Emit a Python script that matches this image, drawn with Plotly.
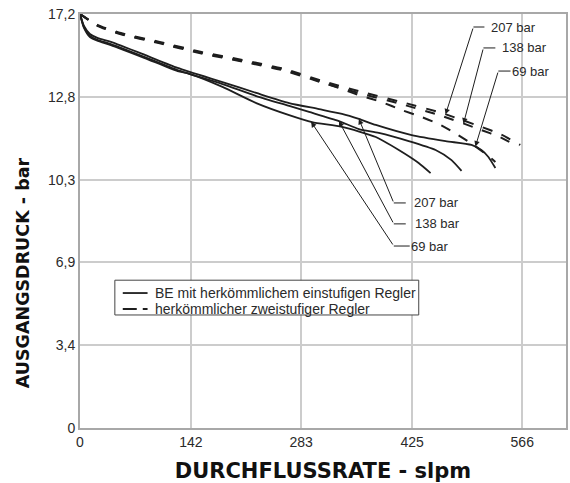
import numpy as np
import plotly.graph_objects as go

# ---- data (flow in slpm, outlet pressure in bar) ----
s207_x = [0, 5.1, 12.7, 22.9, 39.5, 82.9, 124.9, 182.3, 225.6, 267.7, 306.0, 335.3, 356.9, 378.6, 424.5, 467.9, 501.0, 513.7, 522.7, 531.6]
s207_y = [17.2, 16.70, 16.37, 16.20, 16.04, 15.50, 14.96, 14.37, 13.92, 13.50, 13.25, 13.05, 12.84, 12.59, 12.17, 11.92, 11.76, 11.55, 11.26, 10.80]

s138_x = [0, 5.1, 12.7, 22.9, 39.5, 82.9, 124.9, 182.3, 225.6, 267.7, 293.2, 331.4, 356.9, 382.4, 420.7, 455.1, 475.5, 488.3]
s138_y = [17.2, 16.66, 16.29, 16.12, 15.95, 15.41, 14.87, 14.29, 13.79, 13.38, 13.13, 12.75, 12.42, 12.26, 11.92, 11.55, 11.13, 10.68]

s69_x = [0, 5.1, 12.7, 22.9, 39.5, 82.9, 124.9, 140.2, 182.3, 225.6, 267.7, 297.0, 335.3, 378.6, 408.0, 433.4, 448.7]
s69_y = [17.2, 16.62, 16.24, 16.08, 15.91, 15.37, 14.83, 14.71, 14.17, 13.50, 13.00, 12.71, 12.51, 12.09, 11.55, 11.01, 10.59]

d207_x = [0, 22.9, 52.3, 102.0, 155.5, 207.8, 261.3, 309.8, 360.8, 411.8, 462.7, 513.7, 538.0, 563.5]
d207_y = [17.2, 16.74, 16.41, 16.04, 15.62, 15.29, 14.92, 14.42, 13.96, 13.54, 13.09, 12.51, 12.21, 11.76]

d138_x = [0, 22.9, 52.3, 102.0, 155.5, 207.8, 261.3, 309.8, 360.8, 411.8, 462.7, 513.7, 538.0, 560.9]
d138_y = [17.2, 16.70, 16.36, 15.98, 15.56, 15.22, 14.85, 14.35, 13.88, 13.45, 12.97, 12.38, 12.08, 11.68]

d69_x = [0, 22.9, 52.3, 102.0, 155.5, 207.8, 261.3, 309.8, 335.3, 360.8, 386.2, 411.8, 437.2, 458.9, 481.9, 503.5, 522.7, 531.6]
d69_y = [17.2, 16.72, 16.38, 16.01, 15.59, 15.25, 14.88, 14.37, 14.08, 13.79, 13.54, 13.21, 12.92, 12.63, 12.21, 11.76, 11.30, 11.05]

x_tickvals = [0, 142, 283, 425, 566]
x_ticktext = ["0", "142", "283", "425", "566"]
y_tickvals = [0, 3.44, 6.88, 10.32, 13.76, 17.2]
y_ticktext = ["0", "3,4", "6,9", "10,3", "12,8", "17,2"]

legend_solid = "BE mit herkömmlichem einstufigen Regler"
legend_dash = "herkömmlicher zweistufiger Regler"
pressure_labels = ["207 bar", "138 bar", "69 bar"]
x_title = "DURCHFLUSSRATE - slpm"
y_title = "AUSGANGSDRUCK - bar"

INK = "#1e1e1e"
TXT = "#2a2a2a"
FONT = "Liberation Sans, Arial, sans-serif"
DASH = "10px,10px"

fig = go.Figure()

solid = [(s207_x, s207_y), (s138_x, s138_y), (s69_x, s69_y)]
dashed = [(d207_x, d207_y), (d138_x, d138_y), (d69_x, d69_y)]

for i, (xs, ys) in enumerate(solid):
    fig.add_trace(go.Scatter(x=xs, y=ys, mode="lines", name=legend_solid, showlegend=False,
                             hoverinfo="skip",
                             line=dict(color=INK, width=1.8, shape="spline", smoothing=0.6)))
for i, (xs, ys) in enumerate(dashed):
    fig.add_trace(go.Scatter(x=xs, y=ys, mode="lines", name=legend_dash, showlegend=False,
                             hoverinfo="skip",
                             line=dict(color=INK, width=2, dash=DASH, shape="spline", smoothing=0.6)))

annotations = []
shapes = []

def add_callout(series, tip_x, elbow_x, elbow_y, leader_end_x, text_x, label):
    xs, ys = series
    tip_y = float(np.interp(tip_x, xs, ys))
    annotations.append(dict(x=tip_x, y=tip_y, ax=elbow_x, ay=elbow_y, xref="x", yref="y",
                            axref="x", ayref="y", text="", showarrow=True, arrowhead=2,
                            arrowsize=1.1, arrowwidth=1, arrowcolor=INK))
    shapes.append(dict(type="line", xref="x", yref="y", x0=elbow_x, y0=elbow_y,
                       x1=leader_end_x, y1=elbow_y, line=dict(color=INK, width=1)))
    annotations.append(dict(x=text_x, y=elbow_y, xref="x", yref="y", text=label,
                            showarrow=False, xanchor="left", yanchor="middle",
                            font=dict(size=13, color=TXT, family=FONT)))

# dashed callouts (top right)
add_callout(dashed[0], 467.9, 503.5, 16.66, 517.6, 523.0, pressure_labels[0])
add_callout(dashed[1], 490.8, 516.3, 15.79, 531.6, 537.0, pressure_labels[1])
add_callout(dashed[2], 506.1, 535.4, 14.83, 551.0, 550.5, pressure_labels[2])
# solid callouts (middle)
add_callout(solid[0], 356.9, 401.6, 9.35, 416.9, 424.5, pressure_labels[0])
add_callout(solid[1], 331.4, 401.6, 8.48, 416.9, 426.0, pressure_labels[1])
add_callout(solid[2], 295.8, 401.6, 7.56, 422.0, 421.0, pressure_labels[2])

# legend box (drawn in paper coordinates)
shapes.append(dict(type="rect", xref="paper", yref="paper", x0=0.0717, x1=0.697, y0=0.273, y1=0.357,
                   line=dict(color="#444444", width=1), fillcolor="white", layer="above"))
shapes.append(dict(type="line", xref="paper", yref="paper", x0=0.088, x1=0.139, y0=0.326, y1=0.326,
                   line=dict(color=INK, width=1.8), layer="above"))
shapes.append(dict(type="line", xref="paper", yref="paper", x0=0.088, x1=0.139, y0=0.2874, y1=0.2874,
                   line=dict(color=INK, width=2, dash="14px,6px"), layer="above"))
annotations.append(dict(x=0.1496, y=0.326, xref="paper", yref="paper", text=legend_solid,
                        showarrow=False, xanchor="left", yanchor="middle",
                        font=dict(size=14, color=TXT, family=FONT)))
annotations.append(dict(x=0.1496, y=0.2874, xref="paper", yref="paper", text=legend_dash,
                        showarrow=False, xanchor="left", yanchor="middle",
                        font=dict(size=14, color=TXT, family=FONT)))

# y-axis title (placed off-centre as in the original)
annotations.append(dict(x=-0.1168, y=0.3744, xref="paper", yref="paper", text=y_title,
                        showarrow=False, textangle=-90, xanchor="center", yanchor="middle",
                        font=dict(family="DejaVu Sans", size=17.5, color="#111111", weight="bold")))

fig.update_layout(
    width=570, height=483,
    margin=dict(l=80, r=2, t=14, b=55),
    paper_bgcolor="white", plot_bgcolor="white",
    font=dict(family=FONT, size=14, color=TXT),
    annotations=annotations, shapes=shapes,
    showlegend=False, hovermode=False,
)

fig.update_xaxes(range=[0, 622], tickvals=x_tickvals, ticktext=x_ticktext,
                 showgrid=True, gridcolor="#cccccc", gridwidth=1.5,
                 showline=True, linecolor="#a8a8a8", linewidth=2, mirror=True,
                 ticks="", zeroline=False, tickfont=dict(size=14),
                 title=dict(text=x_title, standoff=16,
                            font=dict(family="DejaVu Sans", size=21, color="#111111", weight="bold")))
fig.update_yaxes(range=[0, 17.2], tickvals=y_tickvals, ticktext=y_ticktext,
                 showgrid=True, gridcolor="#cccccc", gridwidth=1.5,
                 showline=True, linecolor="#a8a8a8", linewidth=2, mirror=True,
                 ticks="", zeroline=False, tickfont=dict(size=14))

fig.write_html("out.html", config={"displayModeBar": False},
               post_script="document.body.style.margin='0';document.body.style.overflow='hidden';")
